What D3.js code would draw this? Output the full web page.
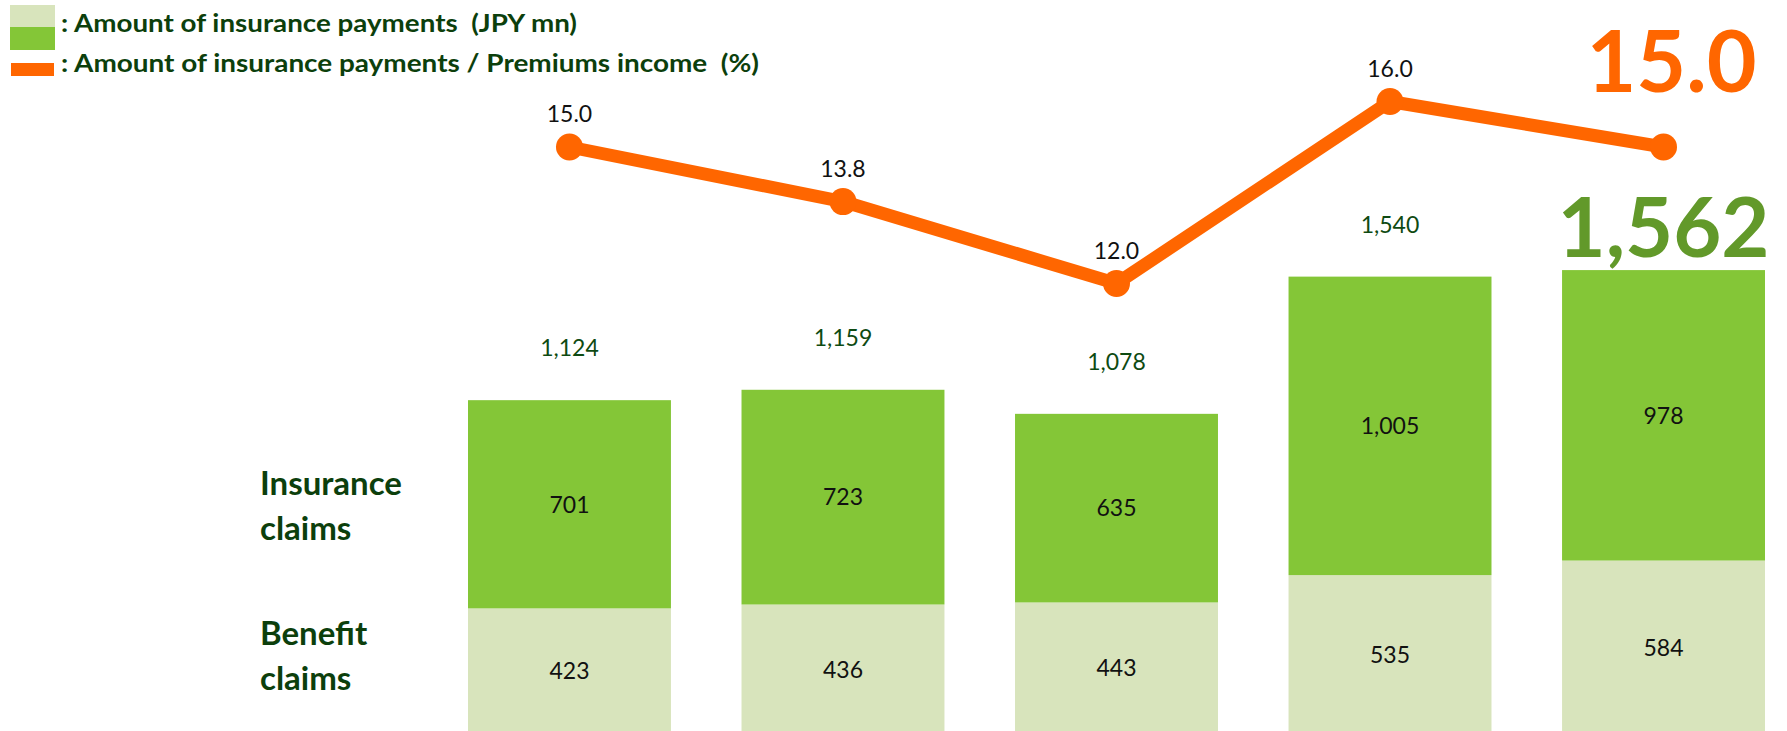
<!DOCTYPE html>
<html>
<head>
    <meta charset="utf-8">
    <script src="https://d3js.org/d3.v7.min.js"></script>
    <style>
        body {
            margin: 0;
            background: #fff;
            font-family: Lato, "Open Sans", sans-serif;
        }
        svg { display: block; }
    </style>
</head>
<body>
    <svg width="1787" height="731"></svg>
    <script>
        // data
        const periods = ["P1", "P2", "P3", "P4", "P5"];
        const benefitClaims = [423, 436, 443, 535, 584];
        const insuranceClaims = [701, 723, 635, 1005, 978];
        const totalPayments = [1124, 1159, 1078, 1540, 1562];
        const paymentRatio = [15.0, 13.8, 12.0, 16.0, 15.0];

        const legendLabels = [": Amount of insurance payments  (JPY mn)", ": Amount of insurance payments / Premiums income  (%)"];
        const sideLabels = [["Insurance", "claims"], ["Benefit", "claims"]];

        const lightGreen = "#d8e4bc";
        const green = "#84c637";
        const orange = "#ff6600";
        const darkText = "#0c3f0c";

        const svg = d3.select("svg");

        const rows = periods.map((p, i) => ({ period: p, benefit: benefitClaims[i], insurance: insuranceClaims[i] }));

        // scales
        const x = d3.scaleBand()
            .domain(periods)
            .range([468, 1765])
            .paddingInner(0.258)
            .paddingOuter(0);

        const y = d3.scaleLinear()
            .domain([0, 1600])
            .range([734, 734 - 1600 * 0.297]);

        const yRatio = d3.scaleLinear()
            .domain([12, 16])
            .range([283.5, 101.5]);

        const stack = d3.stack().keys(["benefit", "insurance"]);
        const series = stack(rows);
        const fills = { benefit: lightGreen, insurance: green };
        const last = periods.length - 1;

        // stacked bars
        const layer = svg.append("g")
            .selectAll("g")
            .data(series)
            .join("g")
            .attr("fill", d => fills[d.key]);

        layer.selectAll("rect")
            .data(d => d)
            .join("rect")
            .attr("x", d => x(d.data.period))
            .attr("y", d => y(d[1]))
            .attr("width", x.bandwidth())
            .attr("height", d => y(d[0]) - y(d[1]));

        // segment labels
        layer.selectAll("text")
            .data(d => d)
            .join("text")
            .attr("x", d => x(d.data.period) + x.bandwidth() / 2)
            .attr("y", d => (y(d[0]) + y(d[1])) / 2)
            .attr("dy", "0.36em")
            .attr("text-anchor", "middle")
            .attr("fill", "#111")
            .style("font-size", "23px")
            .text(d => d3.format(",")(d[1] - d[0]));

        // total labels above bars (last one is big)
        svg.append("g")
            .selectAll("text")
            .data(totalPayments)
            .join("text")
            .attr("x", (d, i) => x(periods[i]) + x.bandwidth() / 2)
            .attr("y", (d, i) => i === last ? y(d) - 13 : y(d) - 44)
            .attr("text-anchor", "middle")
            .attr("fill", (d, i) => i === last ? "#62992a" : "#0e4a12")
            .style("font-size", (d, i) => i === last ? "83px" : "23px")
            .style("font-weight", (d, i) => i === last ? "bold" : "normal")
            .text(d => d3.format(",")(d));

        // ratio line
        const line = d3.line()
            .x((d, i) => x(periods[i]) + x.bandwidth() / 2)
            .y(d => yRatio(d));

        svg.append("path")
            .datum(paymentRatio)
            .attr("d", line)
            .attr("fill", "none")
            .attr("stroke", orange)
            .attr("stroke-width", 13)
            .attr("stroke-linejoin", "round");

        svg.append("g")
            .selectAll("circle")
            .data(paymentRatio)
            .join("circle")
            .attr("cx", (d, i) => x(periods[i]) + x.bandwidth() / 2)
            .attr("cy", d => yRatio(d))
            .attr("r", 13.5)
            .attr("fill", orange);

        svg.append("g")
            .selectAll("text")
            .data(paymentRatio)
            .join("text")
            .attr("x", (d, i) => x(periods[i]) + x.bandwidth() / 2 + (i === last ? 8 : 0))
            .attr("y", (d, i) => i === last ? yRatio(d) - 55 : yRatio(d) - 25)
            .attr("text-anchor", "middle")
            .attr("fill", (d, i) => i === last ? orange : "#111")
            .style("font-size", (d, i) => i === last ? "86px" : "23px")
            .style("font-weight", (d, i) => i === last ? "bold" : "normal")
            .text(d => d3.format(".1f")(d));

        // side labels
        const side = svg.append("g");
        sideLabels.forEach((lines, k) => {
            const t = side.append("text")
                .attr("x", 260)
                .attr("y", k === 0 ? 495 : 645)
                .attr("fill", darkText)
                .style("font-size", "33px")
                .style("font-weight", "bold");
            lines.forEach((s, j) => {
                t.append("tspan").attr("x", 260).attr("dy", j === 0 ? 0 : 45).text(s);
            });
        });

        // legend
        const legend = svg.append("g");
        legend.append("rect").attr("x", 10).attr("y", 5).attr("width", 45).attr("height", 22).attr("fill", lightGreen);
        legend.append("rect").attr("x", 10).attr("y", 27).attr("width", 45).attr("height", 23).attr("fill", green);
        legend.append("rect").attr("x", 11).attr("y", 63).attr("width", 43).attr("height", 13).attr("fill", orange);

        legend.selectAll("text")
            .data(legendLabels)
            .join("text")
            .attr("x", 61)
            .attr("y", (d, i) => i === 0 ? 32 : 72)
            .attr("fill", darkText)
            .style("font-size", "24px")
            .style("font-weight", "bold")
            .style("white-space", "pre")
            .attr("textLength", (d, i) => i === 0 ? 516 : 698)
            .attr("lengthAdjust", "spacingAndGlyphs")
            .text(d => d);
    </script>
</body>
</html>
